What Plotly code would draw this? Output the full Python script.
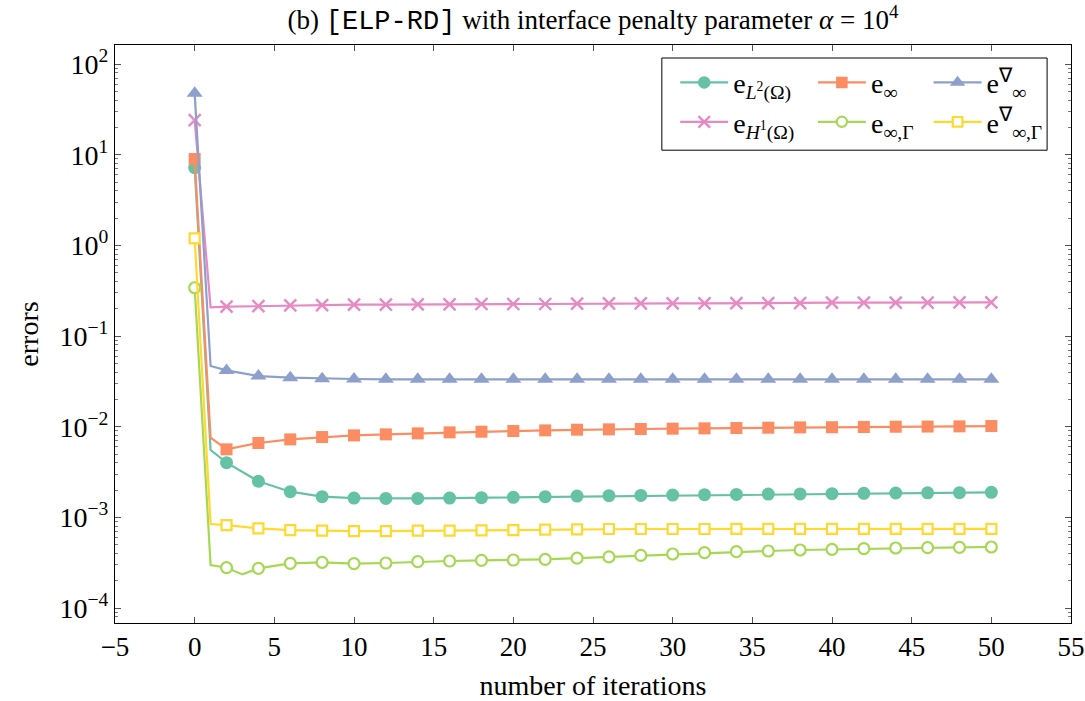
import plotly.graph_objects as go

# ---------------- data ----------------
iters = [0, 1, 2, 4, 6, 8, 10, 12, 14, 16, 18, 20, 22, 24, 26,
         28, 30, 32, 34, 36, 38, 40, 42, 44, 46, 48, 50]
iters_g = [0, 1, 2, 3, 4, 6, 8, 10, 12, 14, 16, 18, 20, 22, 24, 26,
           28, 30, 32, 34, 36, 38, 40, 42, 44, 46, 48, 50]

e_L2 = [7.2, 5.53e-3, 4.01e-3, 2.50e-3, 1.92e-3, 1.69e-3, 1.634e-3, 1.62e-3,
        1.62e-3, 1.634e-3, 1.648e-3, 1.662e-3, 1.69e-3, 1.719e-3, 1.734e-3,
        1.748e-3, 1.763e-3, 1.778e-3, 1.793e-3, 1.808e-3, 1.816e-3, 1.824e-3,
        1.84e-3, 1.856e-3, 1.864e-3, 1.871e-3, 1.887e-3]
e_inf = [8.96, 7.57e-3, 5.63e-3, 6.61e-3, 7.25e-3, 7.69e-3, 8.02e-3, 8.23e-3,
         8.44e-3, 8.66e-3, 8.81e-3, 8.96e-3, 9.11e-3, 9.27e-3, 9.35e-3,
         9.43e-3, 9.51e-3, 9.59e-3, 9.67e-3, 9.75e-3, 9.83e-3, 9.87e-3,
         9.92e-3, 1.0e-2, 1.004e-2, 1.009e-2, 1.017e-2]
e_grad = [47.5, 0.0467, 0.0418, 0.0362, 0.0347, 0.0339, 0.0336, 0.0333,
          0.0333, 0.0333, 0.0333, 0.0333, 0.0333, 0.0333, 0.0333, 0.0333,
          0.0333, 0.0333, 0.0333, 0.0333, 0.0333, 0.0333, 0.0333, 0.0333,
          0.0333, 0.0333, 0.0333]
e_H1 = [24.1, 0.207, 0.2107, 0.2143, 0.218, 0.2198, 0.2217, 0.2217, 0.2236,
        0.2236, 0.2255, 0.2255, 0.2255, 0.2274, 0.2293, 0.2293, 0.2293,
        0.2293, 0.2312, 0.2312, 0.2312, 0.2332, 0.2332, 0.2332, 0.2332,
        0.2352, 0.2352]
e_inf_G = [0.341, 2.98e-4, 2.786e-4, 2.35e-4, 2.739e-4, 3.11e-4, 3.19e-4,
           3.084e-4, 3.137e-4, 3.245e-4, 3.301e-4, 3.357e-4, 3.386e-4,
           3.444e-4, 3.55e-4, 3.66e-4, 3.811e-4, 3.944e-4, 4.08e-4,
           4.185e-4, 4.257e-4, 4.365e-4, 4.44e-4, 4.516e-4, 4.593e-4,
           4.632e-4, 4.672e-4, 4.711e-4]
e_grad_G = [1.195, 8.44e-4, 8.23e-4, 7.56e-4, 7.25e-4, 7.13e-4, 7.07e-4,
            7.07e-4, 7.13e-4, 7.13e-4, 7.19e-4, 7.25e-4, 7.31e-4, 7.37e-4,
            7.44e-4, 7.44e-4, 7.44e-4, 7.44e-4, 7.45e-4, 7.45e-4, 7.45e-4,
            7.46e-4, 7.46e-4, 7.46e-4, 7.47e-4, 7.47e-4, 7.47e-4]

y_tickvals = [1e-4, 1e-3, 1e-2, 1e-1, 1, 10, 100]
y_ticktext = ["10<sup>−4</sup>", "10<sup>−3</sup>", "10<sup>−2</sup>",
              "10<sup>−1</sup>", "10<sup>0</sup>", "10<sup>1</sup>",
              "10<sup>2</sup>"]
x_tickvals = [-5, 0, 5, 10, 15, 20, 25, 30, 35, 40, 45, 50, 55]
x_ticktext = ["−5", "0", "5", "10", "15", "20", "25", "30", "35", "40",
              "45", "50", "55"]

names = {
    "L2": "e<sub><i>L</i><sup>2</sup>(Ω)</sub>",
    "inf": "e<sub>∞</sub>",
    "grad": "e<sup>∇</sup><sub>∞</sub>",
    "H1": "e<sub><i>H</i><sup>1</sup>(Ω)</sub>",
    "infG": "e<sub>∞,Γ</sub>",
    "gradG": "e<sup>∇</sup><sub>∞,Γ</sub>",
}

# ---------------- figure ----------------
FONT = "Liberation Serif"
fig = go.Figure()


def msizes(xs, s):
    return [s if x % 2 == 0 else 0 for x in xs]


def add(x, y, name, color, symbol, size, legend, fill=None, lw=0):
    fig.add_trace(go.Scatter(
        x=x, y=y, name=name, mode="lines+markers",
        line=dict(color=color, width=2.2),
        marker=dict(symbol=symbol, size=msizes(x, size),
                    color=fill if fill else color, opacity=1,
                    line=dict(color=color, width=lw)),
        legend=legend,
    ))


add(iters, e_L2, names["L2"], "#66c2a5", "circle", 13, "legend")
add(iters, e_H1, names["H1"], "#e78ac3", "x-thin", 12, "legend", lw=2.4)
add(iters, e_inf, names["inf"], "#fc8d62", "square", 12, "legend2")
add(iters_g, e_inf_G, names["infG"], "#a6d854", "circle", 11, "legend2",
    fill="white", lw=2.2)
add(iters, e_grad, names["grad"], "#8da0cb", "triangle-up", 14, "legend3")
add(iters, e_grad_G, names["gradG"], "#ffd92f", "square", 10, "legend3",
    fill="white", lw=2.2)

leg_common = dict(yanchor="top", xanchor="left", y=0.978,
                  bgcolor="rgba(0,0,0,0)", borderwidth=0,
                  font=dict(family=FONT, size=28, color="black"),
                  itemwidth=48, tracegroupgap=0)

fig.update_layout(
    width=1085, height=701,
    margin=dict(l=115, r=14, t=45, b=78),
    paper_bgcolor="white", plot_bgcolor="white",
    font=dict(family=FONT, size=26, color="black"),
    title=dict(
        text="(b) <span style=\"font-family:'Liberation Mono'\">[ELP-RD]</span>"
             " with interface penalty parameter <i>α</i> = 10<sup>4</sup>",
        x=0.5465, xanchor="center", y=0.972, yanchor="middle",
        font=dict(family=FONT, size=27)),
    legend=dict(x=0.586, **leg_common),
    legend2=dict(x=0.73, **leg_common),
    legend3=dict(x=0.851, **leg_common),
    shapes=[dict(type="rect", xref="paper", yref="paper",
                 x0=0.572, x1=0.975, y0=0.818, y1=0.9775,
                 line=dict(color="black", width=1), fillcolor="white",
                 layer="below")],
)

fig.update_xaxes(
    range=[-5, 55], tickmode="array", tickvals=x_tickvals,
    ticktext=x_ticktext, ticks="inside", ticklen=6, tickcolor="#555",
    showline=True, linecolor="black", linewidth=1, mirror="ticks",
    showgrid=False, zeroline=False, automargin=False,
    tickfont=dict(family=FONT, size=27),
    title=dict(text="number of iterations", font=dict(family=FONT, size=28),
               standoff=18),
)
fig.update_yaxes(
    type="log", range=[-4.165, 2.21], tickmode="array",
    tickvals=y_tickvals, ticktext=y_ticktext, ticks="inside", ticklen=6,
    tickcolor="#555",
    minor=dict(ticks="inside", ticklen=3, dtick="D1", tickcolor="#777",
               showgrid=False),
    showline=True, linecolor="black", linewidth=1, mirror="ticks",
    showgrid=False, zeroline=False, automargin=False,
    tickfont=dict(family=FONT, size=28),
    title=dict(text="errors", font=dict(family=FONT, size=28), standoff=12),
)

fig.write_html("out.html")
